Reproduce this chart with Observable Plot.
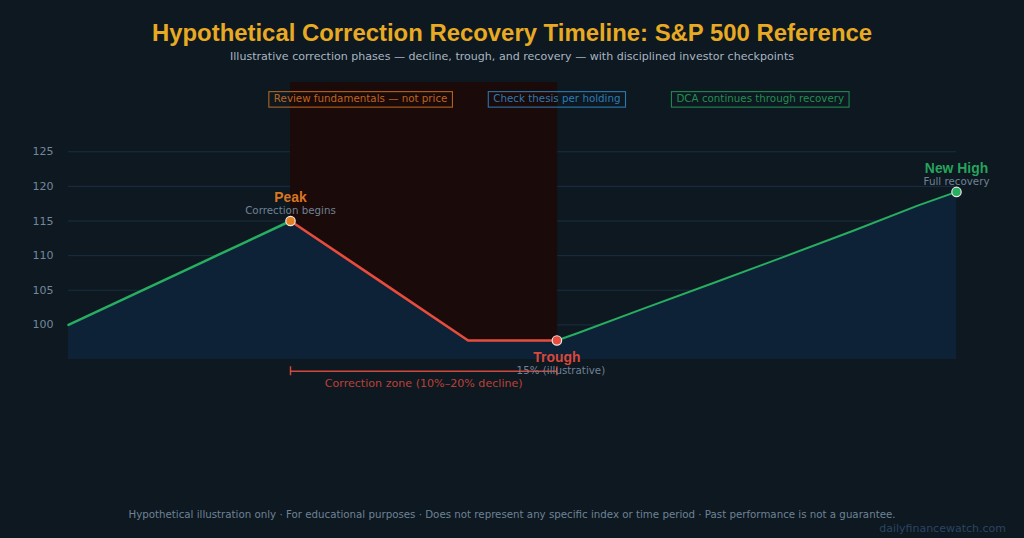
<!DOCTYPE html>
<html>
<head>
<meta charset="utf-8">
<script src="https://cdn.jsdelivr.net/npm/d3@7"></script>
<script src="https://cdn.jsdelivr.net/npm/@observablehq/plot@0.6"></script>
<style>
  html, body { margin: 0; padding: 0; background: #0d1821; width: 1024px; height: 538px; overflow: hidden; }
  #head { height: 70px; text-align: center; position: relative; }
  #head h1 { margin: 0; position: absolute; left: 0; right: 0; top: 19px; font: bold 23.9px/28px "Liberation Sans", Arial, sans-serif; color: #e8aa22; }
  #head p { margin: 0; position: absolute; left: 0; right: 0; top: 49px; font: 11.07px/16px "DejaVu Sans", sans-serif; color: #a9b5c0; }
  #chart { height: 400px; }
  #chart svg { display: block; }
  #foot { height: 68px; position: relative; }
  #foot .note { position: absolute; left: 0; right: 0; top: 37px; text-align: center; font: 10.25px/14px "DejaVu Sans", sans-serif; color: #6f8294; }
  #foot .mark { position: absolute; right: 18px; top: 52px; font: 11px/14px "DejaVu Sans", sans-serif; color: #2c4560; }
</style>
</head>
<body>
<div id="head">
  <h1>Hypothetical Correction Recovery Timeline: S&amp;P 500 Reference</h1>
  <p>Illustrative correction phases — decline, trough, and recovery — with disciplined investor checkpoints</p>
</div>
<div id="chart"></div>
<div id="foot">
  <div class="note">Hypothetical illustration only · For educational purposes · Does not represent any specific index or time period · Past performance is not a guarantee.</div>
  <div class="mark">dailyfinancewatch.com</div>
</div>
<script>
// Timeline position (0–100) and hypothetical index level, by phase
const riseTime = [0, 5, 10, 15, 20, 25];
const riseValue = [100, 103, 106, 109, 112, 115];
const fallTime = [25, 35, 45, 55];
const fallValue = [115, 106.4, 97.75, 97.75];
const recoveryTime = [55, 57.3, 64.75, 72.85, 80.4, 88.3, 95.7, 100];
const recoveryValue = [97.75, 98.8, 102.35, 106.15, 109.75, 113.55, 117.25, 119.2];

const yTicks = [100, 105, 110, 115, 120, 125];
const correctionStart = 25;
const correctionEnd = 55;
const shadeEnd = 55.08;

const milestoneNames = ["Peak", "Trough", "New High"];
const milestoneNotes = ["Correction begins", "15% (illustrative)", "Full recovery"];
const milestoneTime = [25, 55, 100];
const milestoneValue = [115, 97.75, 119.2];
const milestoneColors = ["#e67e22", "#e74c3c", "#27ae60"];

const checkpointLabels = ["Review fundamentals — not price", "Check thesis per holding", "DCA continues through recovery"];
const checkpointTime = [32.9, 55, 77.9];
const checkpointColors = ["#e67e22", "#3498db", "#27ae60"];

const zip = (xs, ys) => xs.map((t, i) => ({t, v: ys[i]}));
const rise = zip(riseTime, riseValue);
const fall = zip(fallTime, fallValue);
const recovery = zip(recoveryTime, recoveryValue);
const all = [...rise, ...fall.slice(1), ...recovery.slice(1)];
const milestones = milestoneNames.map((name, i) => ({name, note: milestoneNotes[i], t: milestoneTime[i], v: milestoneValue[i], color: milestoneColors[i]}));
const checkpoints = checkpointLabels.map((label, i) => ({label, t: checkpointTime[i], color: checkpointColors[i]}));

const yBase = 95, yTop = 135;
const sans = '"DejaVu Sans", sans-serif';
const bold = '"Liberation Sans", Arial, sans-serif';
const noteColor = "#6f8294";
const byName = n => d => d.name === n;

// Draws a thin outline behind each text of a text mark, sized to the text
const measure = document.createElement("canvas").getContext("2d");
function outlined(index, scales, values, dims, context, next) {
  const g = next(index, scales, values, dims, context);
  measure.font = `10.3px "DejaVu Sans"`;
  const ns = "http://www.w3.org/2000/svg";
  const holder = document.createElementNS(ns, "g");
  for (const i of index) {
    const w = measure.measureText(checkpoints[i].label).width;
    const r = document.createElementNS(ns, "rect");
    r.setAttribute("x", values.x[i] - w / 2 - 5);
    r.setAttribute("y", values.y[i] - 7.5);
    r.setAttribute("width", w + 10);
    r.setAttribute("height", 15.5);
    r.setAttribute("fill", "none");
    r.setAttribute("stroke", checkpoints[i].color);
    r.setAttribute("stroke-opacity", 0.75);
    r.setAttribute("stroke-width", 1.1);
    holder.appendChild(r);
  }
  g.insertBefore(holder, g.firstChild);
  return g;
}

const nameText = (n, dy) => Plot.text(milestones.filter(byName(n)), {x: "t", y: "v", text: "name", fill: "color", fillOpacity: 0.95, fontSize: 13.9, fontWeight: "bold", fontFamily: bold, dy});
const noteText = (n, dy, dx = 0) => Plot.text(milestones.filter(byName(n)), {x: "t", y: "v", text: "note", fill: noteColor, fontSize: 10.3, fontFamily: sans, dy, dx});

const plot = Plot.plot({
  width: 1024,
  height: 400,
  marginTop: 12,
  marginBottom: 111,
  marginLeft: 68,
  marginRight: 68,
  style: {background: "transparent", overflow: "visible"},
  x: {domain: [0, 100], axis: null},
  y: {domain: [yBase, yTop], axis: null},
  marks: [
    Plot.gridY(yTicks, {stroke: "#1a2e40", strokeOpacity: 1, strokeWidth: 1}),
    Plot.axisY(yTicks, {tickSize: 0, tickPadding: 15, label: null, fill: "#73879a", fontSize: 11, fontFamily: sans}),
    Plot.rectY([0], {x1: correctionStart, x2: shadeEnd, y1: yBase, y2: yTop, fill: "#1a0a0a"}),
    Plot.areaY(all, {x: "t", y1: yBase, y2: "v", fill: "#0d2137"}),
    Plot.line(rise, {x: "t", y: "v", stroke: "#27ae60", strokeWidth: 2.5}),
    Plot.line(recovery, {x: "t", y: "v", stroke: "#27ae60", strokeWidth: 2}),
    Plot.line(fall, {x: "t", y: "v", stroke: "#e74c3c", strokeWidth: 2.6}),
    Plot.dot(milestones, {x: "t", y: "v", r: 4.7, fill: "color", stroke: "#e8e8e8", strokeWidth: 1.2}),
    Plot.ruleY([0], {x1: correctionStart, x2: correctionEnd, y: 93.3, stroke: "#e74c3c", strokeOpacity: 0.9, strokeWidth: 1.5}),
    Plot.ruleX([correctionStart, correctionEnd], {y1: 92.65, y2: 93.95, stroke: "#e74c3c", strokeOpacity: 0.9, strokeWidth: 1.5}),
    nameText("Peak", -23), noteText("Peak", -10.5),
    nameText("Trough", 17.5), noteText("Trough", 30, 4),
    nameText("New High", -23), noteText("New High", -10.5),
    Plot.text(["Correction zone (10%–20% decline)"], {x: 40, y: 91.5, text: d => d, fill: "#e74c3c", fillOpacity: 0.8, fontSize: 11.1, fontFamily: sans}),
    Plot.text(checkpoints, {x: "t", y: 132.6, text: "label", fill: "color", fillOpacity: 0.8, fontSize: 10.3, fontFamily: sans, render: outlined})
  ]
});
document.getElementById("chart").appendChild(plot);
</script>
</body>
</html>
